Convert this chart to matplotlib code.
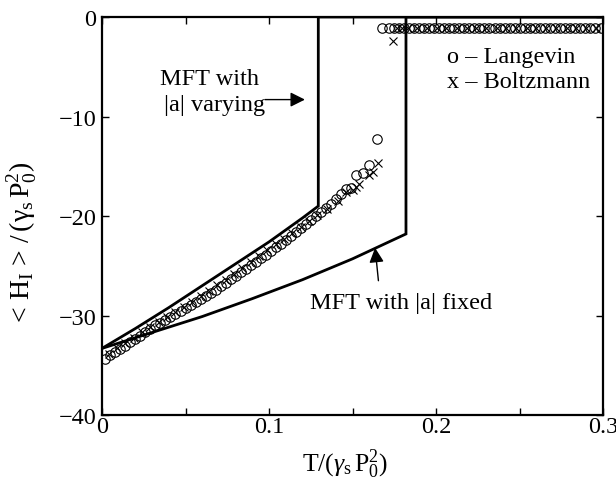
import matplotlib
matplotlib.use("Agg")
import matplotlib.pyplot as plt
from matplotlib import font_manager as fm
import numpy as np

# ---- data ----
# MFT with |a| varying
mft_var_T = [0.0, 0.02, 0.04, 0.06, 0.08, 0.10, 0.12, 0.1295, 0.1295, 0.3]
mft_var_H = [-33.3, -31.3, -29.2, -27.0, -24.8, -22.6, -20.2, -19.0, 0.0, 0.0]
# MFT with |a| fixed
mft_fix_T = [0.0, 0.03, 0.06, 0.09, 0.12, 0.15, 0.182, 0.182, 0.3]
mft_fix_H = [-33.3, -31.7, -30.1, -28.3, -26.4, -24.3, -21.8, 0.0, 0.0]

# Langevin (circles), low branch
lang_T = [0.002, 0.005, 0.008, 0.011, 0.014, 0.017, 0.020, 0.023, 0.026, 0.029,
          0.032, 0.035, 0.038, 0.041, 0.044, 0.047, 0.050, 0.053, 0.056, 0.059,
          0.062, 0.065, 0.068, 0.071, 0.074, 0.077, 0.080, 0.083, 0.086, 0.089,
          0.092, 0.095, 0.098, 0.101, 0.104, 0.107, 0.110, 0.113, 0.116, 0.119,
          0.122, 0.125, 0.128, 0.131, 0.134, 0.137, 0.140, 0.143, 0.146, 0.149,
          0.152, 0.156, 0.160, 0.1645]
lang_H = [-34.4, -34.0, -33.7, -33.4, -33.1, -32.7, -32.4, -32.1, -31.7, -31.4,
          -31.0, -30.7, -30.4, -30.1, -29.8, -29.5, -29.2, -28.9, -28.6, -28.3,
          -28.0, -27.7, -27.4, -27.0, -26.7, -26.3, -26.0, -25.6, -25.3, -24.9,
          -24.6, -24.2, -23.9, -23.5, -23.1, -22.8, -22.4, -22.0, -21.6, -21.2,
          -20.8, -20.4, -20.0, -19.6, -19.2, -18.8, -18.3, -17.8, -17.3, -17.2,
          -15.9, -15.7, -14.9, -12.3]
# Langevin, upper branch (all at the same level)
lang_top_T = [0.1675, 0.1720, 0.1750, 0.1780, 0.1810, 0.1840, 0.1870, 0.1900,
              0.1930, 0.1960, 0.1990, 0.2020, 0.2050, 0.2080, 0.2110, 0.2140,
              0.2170, 0.2200, 0.2230, 0.2260, 0.2290, 0.2320, 0.2350, 0.2380,
              0.2410, 0.2440, 0.2470, 0.2500, 0.2530, 0.2560, 0.2590, 0.2620,
              0.2650, 0.2680, 0.2710, 0.2740, 0.2770, 0.2800, 0.2830, 0.2860,
              0.2890, 0.2920, 0.2950, 0.2985]
top_level = -1.1

# Boltzmann (x), low branch
boltz_T = [0.004, 0.009, 0.014, 0.019, 0.024, 0.029, 0.034, 0.039, 0.044, 0.049,
           0.054, 0.059, 0.064, 0.069, 0.074, 0.079, 0.084, 0.089, 0.094, 0.099,
           0.104, 0.109, 0.114, 0.119, 0.124, 0.129, 0.135, 0.141, 0.146, 0.150,
           0.152, 0.154, 0.160, 0.162, 0.165, 0.1743]
boltz_H = [-33.9, -33.3, -32.8, -32.3, -31.7, -31.2, -30.6, -30.1, -29.6, -29.1,
           -28.6, -28.0, -27.5, -26.9, -26.4, -25.8, -25.2, -24.6, -24.0, -23.4,
           -22.8, -22.3, -21.7, -21.1, -20.5, -19.9, -19.3, -18.5, -17.6, -17.4,
           -17.1, -16.8, -15.9, -15.6, -14.7, -2.4]
boltz_top_T = [0.1765, 0.1795, 0.1830, 0.1885, 0.1945, 0.2005, 0.2060, 0.2125,
               0.2185, 0.2240, 0.2300, 0.2365, 0.2420, 0.2480, 0.2545, 0.2600,
               0.2660, 0.2720, 0.2785, 0.2840, 0.2900, 0.2960]

xticks = [0, 0.1, 0.2, 0.3]
xtick_labels = ["0", "0.1", "0.2", "0.3"]
yticks = [-40, -30, -20, -10, 0]
ytick_labels = ["\u221240", "\u221230", "\u221220", "\u221210", "0"]

# ---- style ----
serif_name = 'Liberation Serif'
names = {f.name for f in fm.fontManager.ttflist}
if serif_name not in names:
    for cand in ['Times New Roman', 'Nimbus Roman', 'DejaVu Serif']:
        if cand in names:
            serif_name = cand
            break
plt.rcParams['font.family'] = 'serif'
plt.rcParams['font.serif'] = [serif_name, 'DejaVu Serif']
plt.rcParams['mathtext.fontset'] = 'custom'
plt.rcParams['mathtext.rm'] = serif_name
plt.rcParams['mathtext.it'] = serif_name + ':italic'
FS = 17.5

fig = plt.figure(figsize=(6.16, 4.81), dpi=100)
ax = fig.add_axes([0.1656, 0.135, 0.8134, 0.8276])

ax.plot(mft_var_T, mft_var_H, color='black', lw=2.0, solid_joinstyle='miter', zorder=3)
ax.plot(mft_fix_T, mft_fix_H, color='black', lw=2.0, solid_joinstyle='miter', zorder=3)

ax.plot(lang_T, lang_H, linestyle='none', marker='o', mfc='none', mec='black',
        ms=6.8, mew=0.8, zorder=4)
ax.plot(lang_top_T, np.full(len(lang_top_T), top_level), linestyle='none', marker='o',
        mfc='none', mec='black', ms=6.8, mew=0.8, zorder=4)
ax.plot(boltz_T, boltz_H, linestyle='none', marker='x', color='black',
        ms=5.5, mew=0.8, zorder=4)
ax.plot(boltz_top_T, np.full(len(boltz_top_T), top_level), linestyle='none', marker='x',
        color='black', ms=5.5, mew=0.8, zorder=4)

ax.set_xlim(0, 0.3)
ax.set_ylim(-40, 0)
ax.set_xticks(xticks)
ax.set_xticklabels(xtick_labels)
ax.set_xticks([0.05, 0.15, 0.25], minor=True)
ax.set_yticks(yticks)
ax.set_yticklabels(ytick_labels)
ax.tick_params(which='both', direction='in', top=True, right=True,
               labelsize=FS, width=1.0)
ax.tick_params(axis='x', which='both', pad=1)
ax.tick_params(axis='y', which='both', pad=4)
ax.tick_params(which='major', length=5)
ax.tick_params(which='minor', length=5)
for s in ax.spines.values():
    s.set_linewidth(1.6)

ax.set_xlabel(r"T/($\gamma_{\rm s}\,$P$_{\rm 0}^{\rm 2}$)", fontsize=FS + 1)
ax.set_ylabel(r"$\rm <\,H_{I}\,>\,/\,(\gamma_{s}\,P_{0}^{2})$", fontsize=FS + 2.5)
ax.xaxis.set_label_coords(0.485, -0.08)
ax.yaxis.set_label_coords(-0.125, 0.43)

ax.text(0.2064, -4.0, "o \u2013 Langevin", fontsize=FS, ha='left', va='center')
ax.text(0.2064, -6.5, "x \u2013 Boltzmann", fontsize=FS, ha='left', va='center')

ax.text(0.0345, -6.2, "MFT with", fontsize=FS, ha='left', va='center')
ax.text(0.0370, -8.8, "|a| varying", fontsize=FS, ha='left', va='center')
ax.annotate("", xy=(0.1215, -8.3), xytext=(0.0975, -8.3),
            arrowprops=dict(arrowstyle='-|>', color='black', lw=1.0,
                            mutation_scale=22, shrinkA=0, shrinkB=0))

ax.text(0.1245, -28.7, "MFT with |a| fixed", fontsize=FS, ha='left', va='center')
ax.annotate("", xy=(0.1635, -23.2), xytext=(0.1655, -26.5),
            arrowprops=dict(arrowstyle='-|>', color='black', lw=1.0,
                            mutation_scale=22, shrinkA=0, shrinkB=0))

fig.savefig("out.png", dpi=100)
